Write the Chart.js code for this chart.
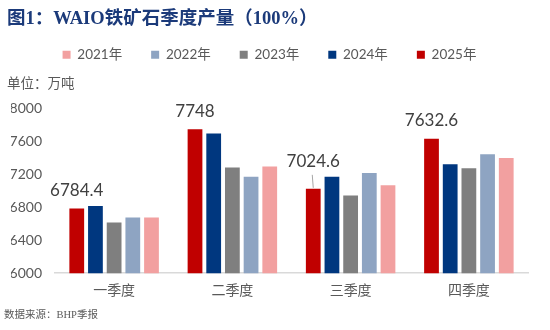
<!DOCTYPE HTML>
<html>
    <head>
        <title>WAIO铁矿石季度产量</title>
        <script src="https://cdn.jsdelivr.net/npm/chart.js@4/dist/chart.umd.min.js"></script>
        <style>
        body {
            margin: 0;
            background: white;
        }
        #wrap {
            position: relative;
            width: 550px;
            height: 330px;
        }
        #title {
            position: absolute;
            left: 7px;
            top: 3px;
            font-family: "Liberation Serif", "Noto Sans CJK SC", serif;
            font-weight: bold;
            font-size: 18.5px;
            color: #1B3A7A;
            white-space: nowrap;
        }
        #unit {
            position: absolute;
            left: 7px;
            top: 72px;
            font-family: "Noto Sans CJK SC", sans-serif;
            font-size: 13.5px;
            color: #595959;
        }
        #source {
            position: absolute;
            left: 4px;
            top: 306px;
            font-family: "Liberation Serif", "Noto Sans CJK SC", serif;
            font-size: 10.5px;
            color: #595959;
        }
        </style>
    </head>
    <body>
        <div id="wrap">
            <canvas id="chart-area"></canvas>
            <div id="title">图1：WAIO铁矿石季度产量（100%）</div>
            <div id="unit">单位：万吨</div>
            <div id="source">数据来源：BHP季报</div>
        </div>
        <script>
            var quarters = ['一季度', '二季度', '三季度', '四季度'];
            var years = ['2025年', '2024年', '2023年', '2022年', '2021年'];
            var output2025 = [6784.4, 7748, 7024.6, 7632.6];
            var output2024 = [6817, 7695, 7171, 7322];
            var output2023 = [6615, 7285, 6944, 7273];
            var output2022 = [6675, 7171, 7216, 7444];
            var output2021 = [6675, 7297, 7069, 7399];
            var yTicks = [6000, 6400, 6800, 7200, 7600, 8000];

            var barColors = ['#C00000', '#00377F', '#7F7F7F', '#8EA4C2', '#F2A0A0'];
            var series = [output2025, output2024, output2023, output2022, output2021];

            // only the 2025 bars get a value label; Q3 sits higher with a leader line
            var labelPlugin = {
                id: 'valueLabels',
                afterDatasetsDraw: function(chart) {
                    var ctx = chart.ctx;
                    var meta = chart.getDatasetMeta(0);
                    ctx.save();
                    ctx.font = '17px Lato, sans-serif';
                    ctx.fillStyle = '#404040';
                    ctx.textAlign = 'center';
                    ctx.textBaseline = 'middle';
                    meta.data.forEach(function(bar, i) {
                        var lift = 18;
                        if (i == 2) {
                            lift = 27;
                            ctx.strokeStyle = '#A6A6A6';
                            ctx.lineWidth = 1;
                            ctx.beginPath();
                            ctx.moveTo(bar.x - 1, bar.y - 14);
                            ctx.lineTo(bar.x, bar.y - 1);
                            ctx.stroke();
                        }
                        ctx.fillText(String(output2025[i]), bar.x, bar.y - lift);
                    });
                    ctx.restore();
                }
            };

            // leave room under the legend for the unit text
            var legendGap = {
                id: 'legendGap',
                beforeInit: function(chart) {
                    var fit = chart.legend.fit;
                    chart.legend.fit = function() {
                        fit.bind(chart.legend)();
                        this.height += 37;
                    };
                }
            };

            var config = {
                type: 'bar',
                data: {
                    labels: quarters,
                    datasets: series.map(function(values, i) {
                        return {
                            label: years[i],
                            data: values,
                            backgroundColor: barColors[i],
                            barPercentage: 0.79,
                            categoryPercentage: 0.79
                        };
                    })
                },
                options: {
                    responsive: true,
                    maintainAspectRatio: false,
                    animation: false,
                    layout: {
                        padding: { top: 19, left: 11, right: 22, bottom: 24 }
                    },
                    plugins: {
                        legend: {
                            position: 'top',
                            reverse: true,
                            labels: {
                                boxWidth: 8,
                                boxHeight: 8,
                                padding: 29,
                                color: '#595959',
                                font: { family: 'Lato, "Noto Sans CJK SC", sans-serif', size: 13.5 }
                            }
                        },
                        tooltip: { enabled: false }
                    },
                    scales: {
                        x: {
                            grid: { display: false, drawTicks: false },
                            border: { color: '#D9D9D9', width: 1.5 },
                            ticks: {
                                color: '#595959',
                                padding: 8,
                                font: { family: '"Noto Sans CJK SC", sans-serif', size: 14 }
                            }
                        },
                        y: {
                            min: 6000,
                            max: 8000,
                            grid: { display: false, drawTicks: false },
                            border: { display: false },
                            afterBuildTicks: function(axis) {
                                axis.ticks = yTicks.map(function(v) { return { value: v }; });
                            },
                            afterFit: function(axis) {
                                axis.width = 44;
                            },
                            ticks: {
                                color: '#595959',
                                padding: 13,
                                font: { family: 'Lato, sans-serif', size: 14 },
                                callback: function(value) { return String(value); }
                            }
                        }
                    }
                },
                plugins: [labelPlugin, legendGap]
            };

            window.onload = function() {
                var ctx = document.getElementById('chart-area').getContext('2d');
                window.myBar = new Chart(ctx, config);
            };
        </script>
    </body>
</html>
